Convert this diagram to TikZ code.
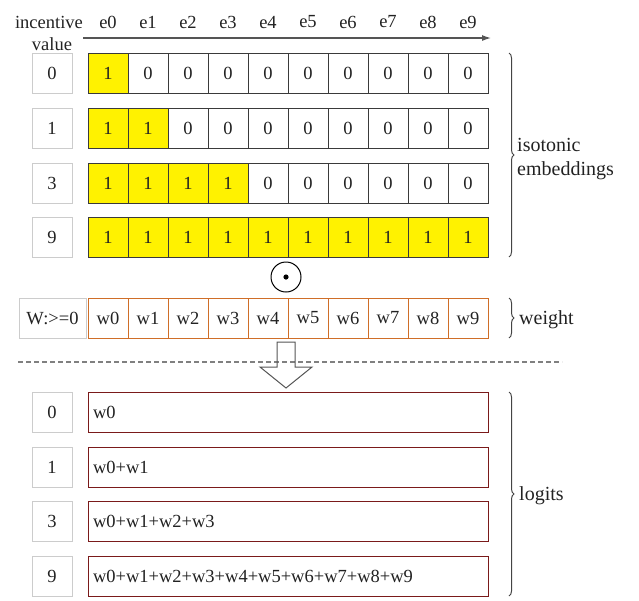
\documentclass[tikz,border=0pt]{standalone}
\usepackage{fontspec}
\setmainfont{Liberation Serif}
\usetikzlibrary{decorations.pathreplacing,arrows.meta}
\definecolor{cellgray}{HTML}{3A3A3A}
\definecolor{labgray}{HTML}{CCCCCC}
\definecolor{wcol}{HTML}{CF6E28}
\definecolor{lgcol}{HTML}{7A1A1A}
\definecolor{dashgray}{HTML}{808080}
\definecolor{arrgray}{HTML}{555555}
\definecolor{bracegray}{HTML}{444444}
\definecolor{txt}{HTML}{222222}
\begin{document}
\begin{tikzpicture}[x=1pt,y=-1pt,
  font=\fontsize{18.5}{22}\selectfont, text=txt,
  cell/.style={draw=cellgray, line width=1pt, minimum width=40pt, minimum height=40pt, inner sep=0pt, outer sep=0pt},
  wcell/.style={draw=wcol, line width=1pt, minimum width=40pt, minimum height=40pt, inner sep=0pt, outer sep=0pt},
  labbox/.style={draw=labgray, line width=1pt, minimum width=40pt, minimum height=40pt, inner sep=0pt, outer sep=0pt},
  logitbox/.style={draw=lgcol, line width=1pt, text width=390pt, align=left, inner xsep=5pt, inner ysep=0pt, minimum height=40pt, outer sep=0pt},
  bigtxt/.style={font=\fontsize{20}{24}\selectfont, inner sep=0pt, anchor=west, align=left},
  bracestyle/.style={decorate, decoration={brace, amplitude=5pt}, line width=1pt, draw=bracegray},
]
\useasboundingbox (0,0) rectangle (639,600);

% header
\node (inc) at (49,22) {incentive};
\node (val) at (52,44) {value};
\foreach \i in {0,...,9} {
  \node (H\i) at ({108+40*\i},22) {e\i};
}
\coordinate (axs) at (83,38);
\coordinate (axe) at (491,38);
\draw[arrgray, line width=1.2pt, -{Latex[length=9pt,width=6pt]}] (axs) -- (axe);

% isotonic embeddings
\foreach \r/\v/\yc/\n in {0/0/73/1, 1/1/128/2, 2/3/183/4, 3/9/237/10} {
  \node[labbox] (L\r) at (52,\yc) {\v};
  \foreach \i in {0,...,9} {
    \ifnum\i<\n \def\fc{yellow}\def\tx{1}\else\def\fc{white}\def\tx{0}\fi
    \node[cell, fill=\fc] (E\r-\i) at ({108+40*\i},\yc) {\tx};
  }
}
\draw[bracestyle] (509,53) -- (509,257);
\node[bigtxt] (iso) at (517,159) {isotonic\\embeddings};

% odot
\node[circle, draw=black, line width=1pt, minimum size=30pt, inner sep=0pt] (odot) at (286,277) {};
\fill (odot.center) circle (2.6pt);

% weight
\node[labbox, minimum width=67pt] (W) at (52.5,318) {W:>=0};
\foreach \i in {0,...,9} {
  \node[wcell] (Wc\i) at ({108+40*\i},318) {w\i};
}
\draw[bracestyle] (509,298) -- (509,338);
\node[bigtxt] (wt) at (519,320) {weight};

% separator and block arrow
\coordinate (ds) at (18,362);
\coordinate (de) at (562,362);
\draw[dashgray, line width=1.2pt, dash pattern=on 5pt off 3pt] (ds) -- (de);
\draw[arrgray, line width=1pt, line join=miter]
  (277,342) -- (295,342) -- (295,367) -- (312,367) -- (286,388) -- (260,367) -- (277,367) -- cycle;

% logits
\foreach \r/\v/\yc/\t in {0/0/412/{w0}, 1/1/467/{w0+w1}, 2/3/521/{w0+w1+w2+w3}, 3/9/576/{w0+w1+w2+w3+w4+w5+w6+w7+w8+w9}} {
  \node[labbox] (G\r) at (52,\yc) {\v};
  \node[logitbox] (O\r) at (288,\yc) {\t};
}
\draw[bracestyle] (509,392) -- (509,596);
\node[bigtxt] (lg) at (519,496) {logits};
\end{tikzpicture}
\end{document}
